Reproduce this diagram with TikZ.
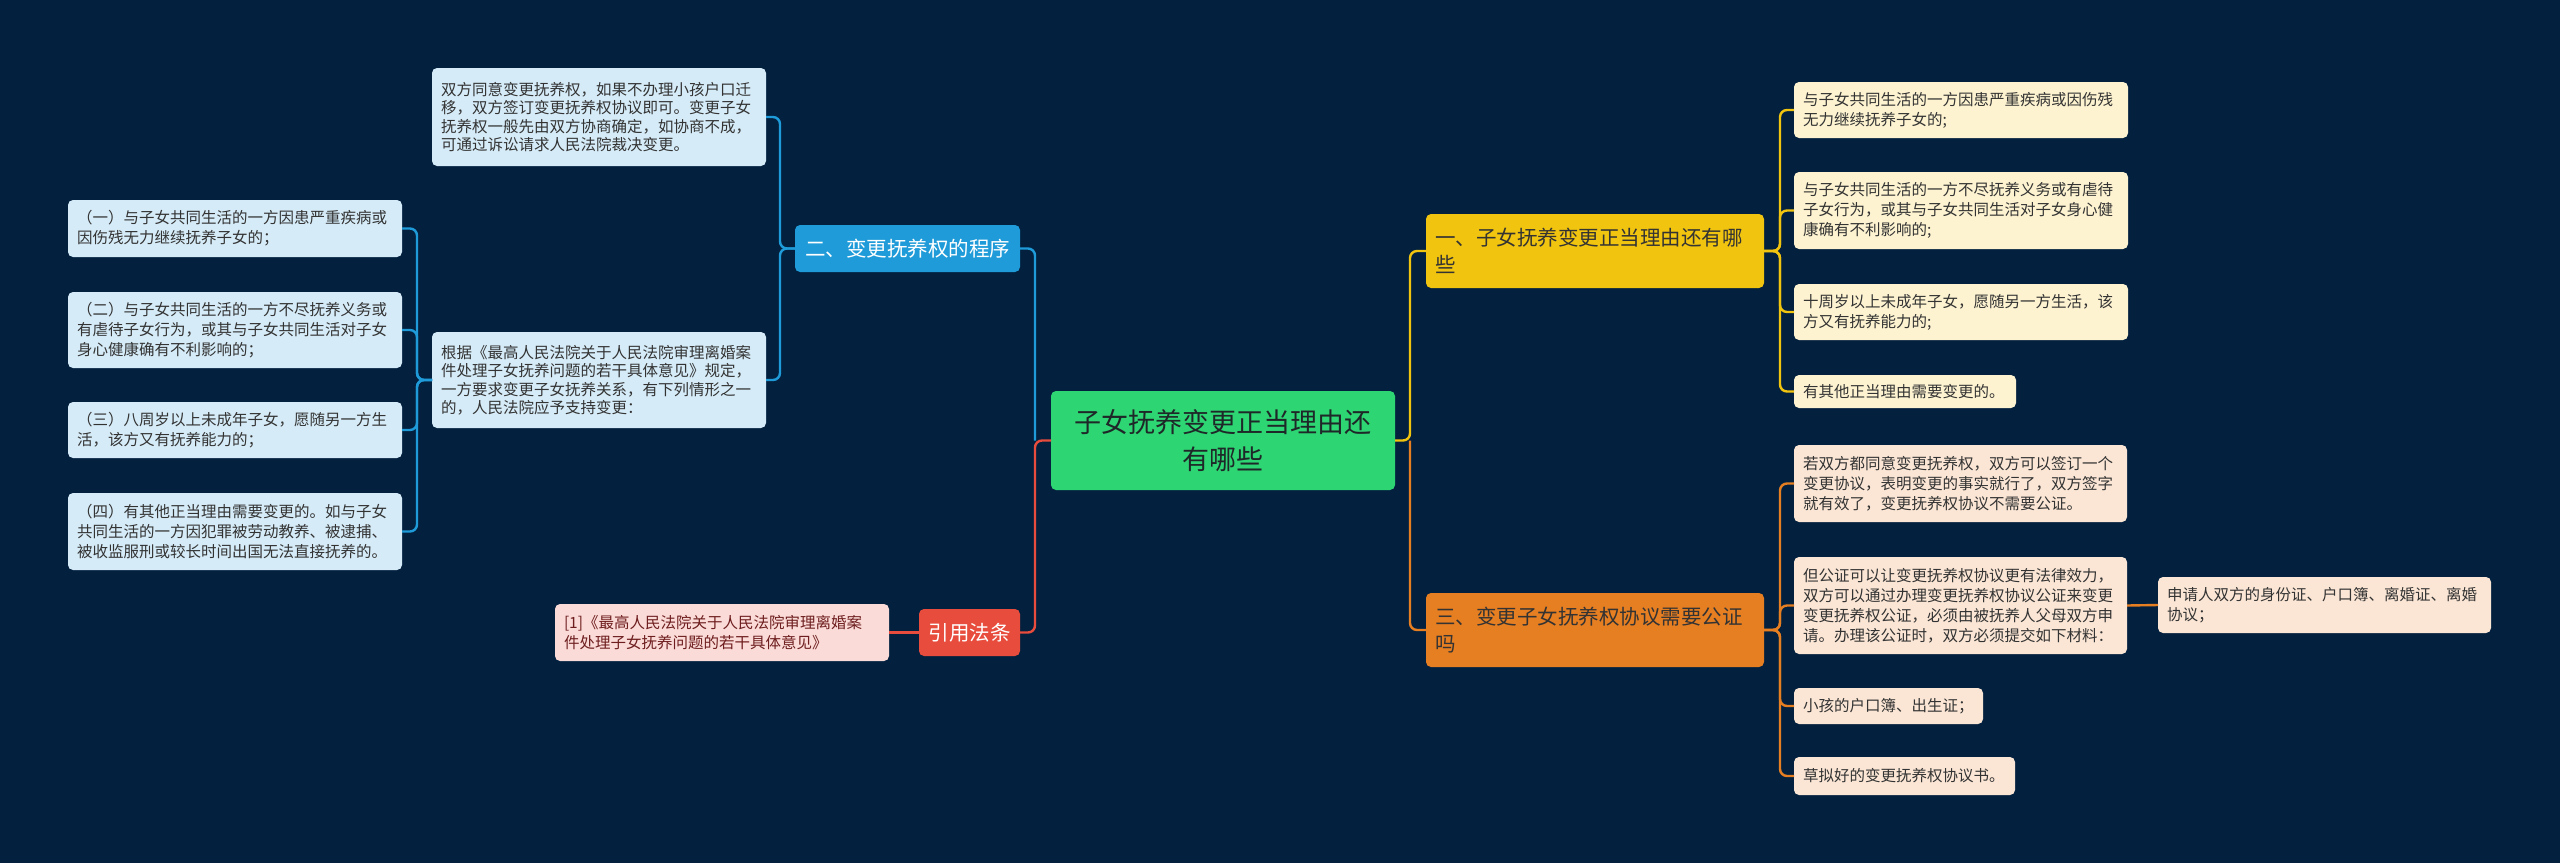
\documentclass[tikz,border=0pt]{standalone}
\usepackage{fontspec}
\setmainfont{Noto Sans CJK SC}
\definecolor{bg}{HTML}{03213F}
\definecolor{cblue}{HTML}{1E9BD8}
\definecolor{cyel}{HTML}{F1C40F}
\definecolor{cora}{HTML}{E67E22}
\definecolor{cred}{HTML}{E74C3C}
\definecolor{cgreen}{HTML}{2ED573}
\definecolor{lblue}{HTML}{D5EBF7}
\definecolor{lyel}{HTML}{FDF3D1}
\definecolor{lora}{HTML}{FBE6D5}
\definecolor{lred}{HTML}{FADBD8}
\definecolor{tdark}{HTML}{333333}
\tikzset{
  base/.style={rounded corners=5pt, inner xsep=9pt, inner ysep=0pt, outer sep=0pt},
  leaf/.style={base, align=left, text=tdark, font=\fontsize{15.5}{20}\selectfont},
  leafb/.style={leaf, fill=lblue},
  leafy/.style={leaf, fill=lyel},
  leafo/.style={leaf, fill=lora},
  leafr/.style={leaf, fill=lred, text={rgb,255:red,110;green,30;blue,30}},
  lvl/.style={base, font=\fontsize{20.5}{27}\selectfont},
  conn/.style={line width=2.4pt, rounded corners=7pt},
  cb/.style={conn, draw=cblue},
  cy/.style={conn, draw=cyel},
  co/.style={conn, draw=cora},
  cr/.style={conn, draw=cred},
}
\begin{document}
\begin{tikzpicture}[x=1pt,y=-1pt]
\fill[bg] (0,0) rectangle (2560,863);
\useasboundingbox (0,0) rectangle (2560,863);

% center
\node[base, fill=cgreen, text={rgb,255:red,30;green,40;blue,40}, align=center, text width=326pt, minimum height=99pt, font=\fontsize{27}{37}\selectfont] (c) at (1223,440.5) {子女抚养变更正当理由还\\有哪些};

% level 1
\node[lvl, fill=cblue, text=white, align=center, text width=207pt, minimum height=47pt] (er) at (907.5,248.5) {二、变更抚养权的程序};
\node[lvl, fill=cred, text=white, align=center, text width=83pt, minimum height=47pt] (yl) at (969.5,632.5) {引用法条};
\node[lvl, fill=cyel, text=tdark, align=left, text width=320pt, minimum height=74pt] (y1) at (1595,251) {一、子女抚养变更正当理由还有哪\\些};
\node[lvl, fill=cora, text=tdark, align=left, text width=320pt, minimum height=74pt] (s3) at (1595,630) {三、变更子女抚养权协议需要公证\\吗};

% left branch
\node[leafb, text width=316pt, minimum height=98pt, font=\fontsize{15.5}{18.5}\selectfont] (a1) at (599,117) {双方同意变更抚养权，如果不办理小孩户口迁\\移，双方签订变更抚养权协议即可。变更子女\\抚养权一般先由双方协商确定，如协商不成，\\可通过诉讼请求人民法院裁决变更。};
\node[leafb, text width=316pt, minimum height=96pt, font=\fontsize{15.5}{18.5}\selectfont] (a2) at (599,380) {根据《最高人民法院关于人民法院审理离婚案\\件处理子女抚养问题的若干具体意见》规定，\\一方要求变更子女抚养关系，有下列情形之一\\的，人民法院应予支持变更：};
\node[leafb, text width=316pt, minimum height=57pt] (l1) at (235,228.5) {（一）与子女共同生活的一方因患严重疾病或\\因伤残无力继续抚养子女的；};
\node[leafb, text width=316pt, minimum height=76pt] (l2) at (235,330) {（二）与子女共同生活的一方不尽抚养义务或\\有虐待子女行为，或其与子女共同生活对子女\\身心健康确有不利影响的；};
\node[leafb, text width=316pt, minimum height=56pt] (l3) at (235,430) {（三）八周岁以上未成年子女，愿随另一方生\\活，该方又有抚养能力的；};
\node[leafb, text width=316pt, minimum height=77pt] (l4) at (235,531.5) {（四）有其他正当理由需要变更的。如与子女\\共同生活的一方因犯罪被劳动教养、被逮捕、\\被收监服刑或较长时间出国无法直接抚养的。};
\node[leafr, text width=316pt, minimum height=57pt] (ref) at (722,632.5) {[1]《最高人民法院关于人民法院审理离婚案\\件处理子女抚养问题的若干具体意见》};

% right yellow branch
\node[leafy, text width=316pt, minimum height=56pt] (b1) at (1961,110) {与子女共同生活的一方因患严重疾病或因伤残\\无力继续抚养子女的;};
\node[leafy, text width=316pt, minimum height=77pt] (b2) at (1961,210.5) {与子女共同生活的一方不尽抚养义务或有虐待\\子女行为，或其与子女共同生活对子女身心健\\康确有不利影响的;};
\node[leafy, text width=316pt, minimum height=56pt] (b3) at (1961,312) {十周岁以上未成年子女，愿随另一方生活，该\\方又有抚养能力的;};
\node[leafy, text width=204pt, minimum height=33pt] (b4) at (1905,391.5) {有其他正当理由需要变更的。};

% right orange branch
\node[leafo, text width=315pt, minimum height=77pt] (o1) at (1960.5,483.5) {若双方都同意变更抚养权，双方可以签订一个\\变更协议，表明变更的事实就行了，双方签字\\就有效了，变更抚养权协议不需要公证。};
\node[leafo, text width=315pt, minimum height=97pt] (o2) at (1960.5,605.5) {但公证可以让变更抚养权协议更有法律效力，\\双方可以通过办理变更抚养权协议公证来变更\\变更抚养权公证，必须由被抚养人父母双方申\\请。办理该公证时，双方必须提交如下材料：};
\node[leafo, text width=315pt, minimum height=56pt] (o2a) at (2324.5,605) {申请人双方的身份证、户口簿、离婚证、离婚\\协议；};
\node[leafo, text width=171pt, minimum height=36pt] (o3) at (1888.5,706) {小孩的户口簿、出生证；};
\node[leafo, text width=203pt, minimum height=38pt] (o4) at (1904.5,776) {草拟好的变更抚养权协议书。};

% connectors
\draw[cb] ([xshift=-16pt]c.west) |- (er.east);
\draw[cr] (c.west) -- ([xshift=-16pt]c.west) |- (yl.east);
\draw[cr] (yl.west) -- (ref.east);
\draw[cb] (er.west) -- ([xshift=-15pt]er.west) |- (a1.east);
\draw[cb] (er.west) -- ([xshift=-15pt]er.west) |- (a2.east);
\foreach \n in {l1,l2,l3,l4}
  \draw[cb] (a2.west) -- ([xshift=-15pt]a2.west) |- (\n.east);
\draw[cy] (c.east) -- ([xshift=15pt]c.east) |- (y1.west);
\draw[co] ([xshift=15pt]c.east) |- (s3.west);
\foreach \n in {b1,b2,b3,b4}
  \draw[cy] (y1.east) -- ([xshift=16pt]y1.east) |- (\n.west);
\foreach \n in {o1,o2,o3,o4}
  \draw[co] (s3.east) -- ([xshift=16pt]s3.east) |- (\n.west);
\draw[co] (o2.east) -- (o2a.west);
\end{tikzpicture}
\end{document}
